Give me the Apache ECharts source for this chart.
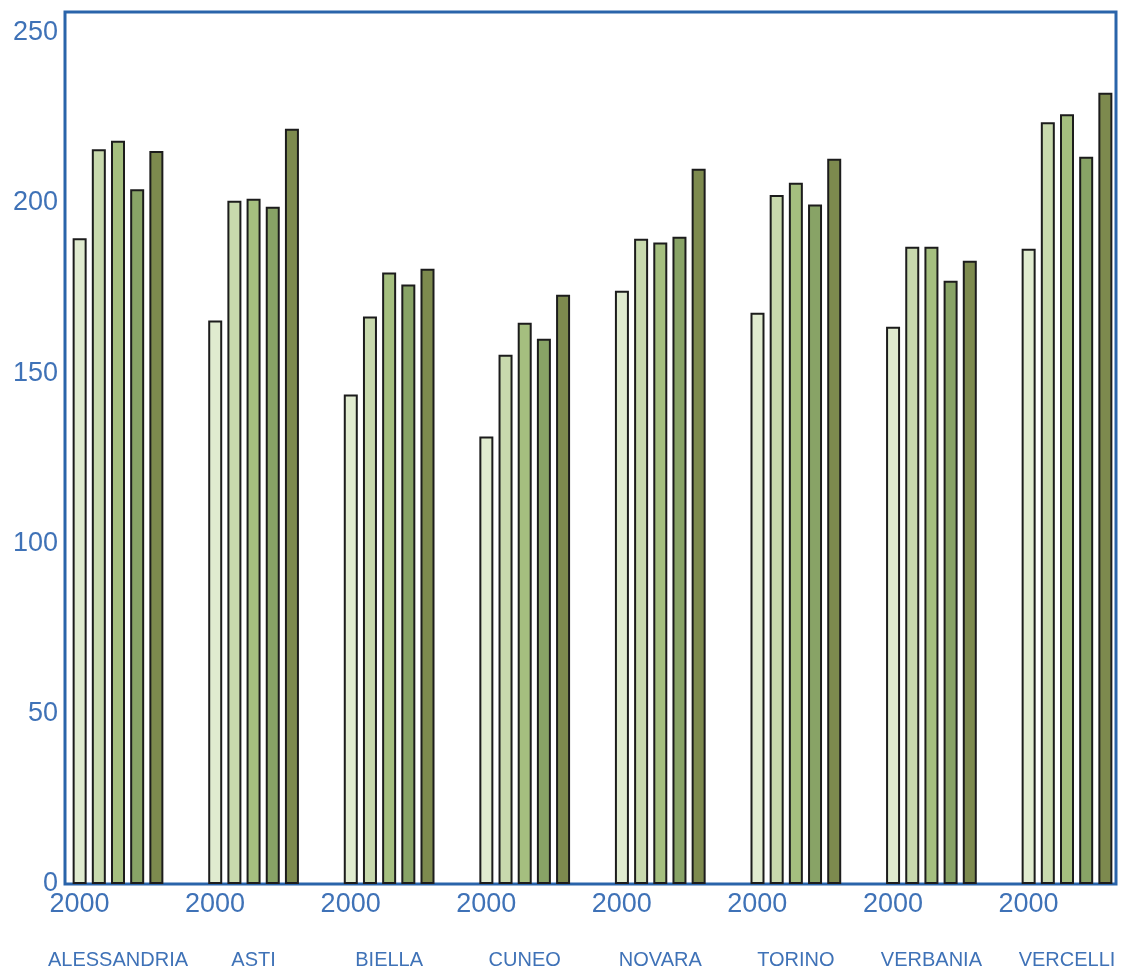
<!DOCTYPE html>
<html>
<head>
<meta charset="utf-8">
<script src="https://cdn.jsdelivr.net/npm/echarts@6/dist/echarts.min.js"></script>
<style>
html,body{margin:0;padding:0;background:#fff;}
#chart{width:1121px;height:974px;}
</style>
</head>
<body>
<div id="chart"></div>
<script>
// ---- data ----
const cities = ['ALESSANDRIA', 'ASTI', 'BIELLA', 'CUNEO', 'NOVARA', 'TORINO', 'VERBANIA', 'VERCELLI'];
const seriesNames = ['2000', '2001', '2002', '2003', '2004'];
const yearLabel = '2000';
const s2000 = [189.6, 165.4, 143.7, 131.4, 174.2, 167.7, 163.6, 186.5];
const s2001 = [215.7, 200.6, 166.6, 155.4, 189.4, 202.3, 187.1, 223.6];
const s2002 = [218.2, 201.2, 179.5, 164.8, 188.3, 205.9, 187.1, 226.0];
const s2003 = [204.0, 198.8, 176.0, 160.1, 190.0, 199.5, 177.1, 213.5];
const s2004 = [215.2, 221.7, 180.6, 173.0, 210.0, 212.9, 183.0, 232.3];
const yTicks = [0, 50, 100, 150, 200, 250];

const allSeries = [s2000, s2001, s2002, s2003, s2004];
const colors = ['#e0ebcf', '#c8d9ad', '#a5bf7f', '#88a366', '#7d8a4e'];
const textColor = '#3f72b7';
const frameColor = '#2a64aa';
const font = 'Liberation Sans, Arial, sans-serif';
const yMax = 256;

const chart = echarts.init(document.getElementById('chart'), null, {renderer: 'canvas'});

const option = {
  backgroundColor: '#ffffff',
  animation: false,
  grid: [
    // bars grid: category ticks at group centres (boundaryGap false)
    {left: 118, right: 54, top: 12, bottom: 90, show: false, containLabel: false},
    // frame grid
    {left: 65, right: 5, top: 12, bottom: 90, show: true, borderColor: frameColor, borderWidth: 3,
     backgroundColor: 'transparent', containLabel: false}
  ],
  xAxis: [
    {
      type: 'category', gridIndex: 0, data: cities, position: 'bottom', boundaryGap: false,
      axisLine: {show: false}, axisTick: {show: false}, splitLine: {show: false},
      axisLabel: {interval: 0, margin: 66, color: textColor, fontFamily: font, fontSize: 20}
    },
    {
      type: 'category', gridIndex: 0, data: cities, position: 'bottom', boundaryGap: false,
      axisLine: {show: false}, axisTick: {show: false}, splitLine: {show: false},
      axisLabel: {interval: 0, margin: 7, color: textColor, fontFamily: font, fontSize: 27,
        padding: [0, 77, 0, 0], formatter: function () { return yearLabel; }}
    },
    {
      type: 'value', gridIndex: 1, show: false
    }
  ],
  yAxis: [
    {type: 'value', gridIndex: 0, min: 0, max: yMax, show: false, splitLine: {show: false}},
    {
      type: 'value', gridIndex: 1, min: 0, max: yMax, interval: 50,
      axisLine: {show: false}, axisTick: {show: false}, splitLine: {show: false},
      axisLabel: {
        margin: 7, color: textColor, fontFamily: font, fontSize: 27,
        showMaxLabel: false,
        formatter: function (v) { return yTicks.indexOf(v) >= 0 ? String(v) : ''; }
      }
    }
  ],
  series: allSeries.map(function (arr, i) {
    return {
      name: seriesNames[i], type: 'bar', xAxisIndex: 0, yAxisIndex: 0, clip: false,
      data: arr, barWidth: 14, barGap: '37%',
      itemStyle: {color: colors[i], borderColor: '#1c1c1c', borderWidth: 2}
    };
  })
};

chart.setOption(option);
</script>
</body>
</html>
